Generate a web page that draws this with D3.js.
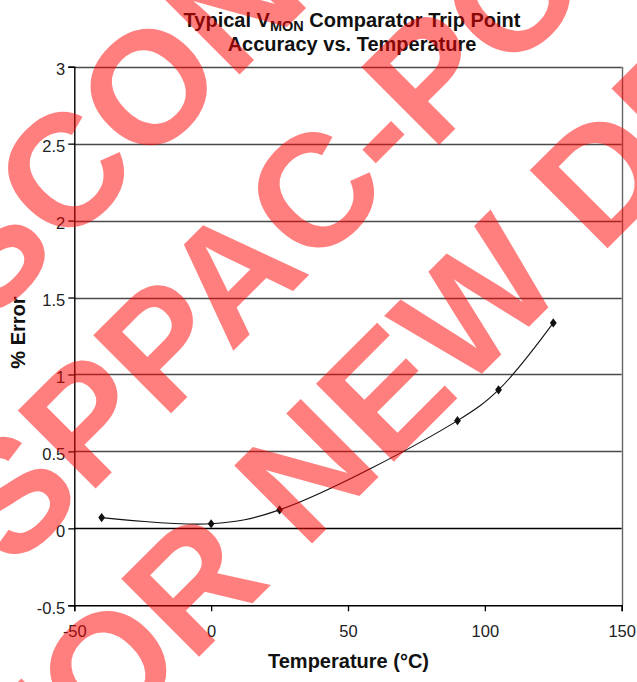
<!DOCTYPE html>
<html><head><meta charset="utf-8">
<script src="https://cdn.jsdelivr.net/npm/d3@7"></script>
<style>
html,body{margin:0;padding:0;background:#fff;}
svg{display:block;font-family:"Liberation Sans",Arial,sans-serif;}
</style>
</head><body>
<svg id="chart" width="637" height="682"></svg>
<script>
// ---- data ----
const temperatures = [-40, 0, 25, 90, 105, 125];
const percentError = [0.07, 0.03, 0.12, 0.70, 0.90, 1.335];
const xTickValues = [-50, 0, 50, 100, 150];
const yTickValues = [-0.5, 0, 0.5, 1, 1.5, 2, 2.5, 3];
const titleMain = "Typical V";
const titleSub = "MON";
const titleRest = " Comparator Trip Point";
const titleLine2 = "Accuracy vs. Temperature";
const xTitle = "Temperature (\u00B0C)";
const yTitle = "% Error";
const watermarkLines = ["DISCONTINUED", "SPPAC-PO", "FOR NEW DESIGNS"];
const watermarkAnchorChar = [3, 4, 4];

// ---- layout ----
const W = 637, H = 682;
const plot = {left: 74.3, right: 621.7, top: 66.7, bottom: 605.3};
const svg = d3.select("#chart");

const x = d3.scaleLinear().domain([-50, 150]).range([plot.left, plot.right]);
const y = d3.scaleLinear().domain([-0.5, 3]).range([plot.bottom, plot.top]);

// gridlines
svg.append("g").selectAll("line")
  .data(yTickValues.filter(v => v !== -0.5))
  .join("line")
  .attr("x1", plot.left).attr("x2", plot.right)
  .attr("y1", d => Math.round(y(d)) + 0.5).attr("y2", d => Math.round(y(d)) + 0.5)
  .attr("stroke", d => d === 0 ? "#000" : "#4a4a4a")
  .attr("stroke-width", d => d === 0 ? 1.4 : 1.3);

// right border
svg.append("line")
  .attr("x1", Math.round(plot.right) + 0.5).attr("x2", Math.round(plot.right) + 0.5)
  .attr("y1", plot.top).attr("y2", plot.bottom)
  .attr("stroke", "#666").attr("stroke-width", 1.4);

// axes
const tickFont = 16.5;
const yAxis = svg.append("g")
  .attr("transform", `translate(${plot.left},0)`)
  .call(d3.axisLeft(y).tickValues(yTickValues).tickSize(6).tickPadding(3)
        .tickFormat(d => String(d)));
const xAxis = svg.append("g")
  .attr("transform", `translate(0,${plot.bottom})`)
  .call(d3.axisBottom(x).tickValues(xTickValues).tickSize(6).tickPadding(3)
        .tickFormat(d => String(d)));
[yAxis, xAxis].forEach(g => {
  g.select(".domain").attr("stroke", "#000").attr("stroke-width", 1.4);
  g.selectAll(".tick line").attr("stroke", "#000").attr("stroke-width", 1.3);
  g.selectAll(".tick text").attr("fill", "#222")
    .style("font-size", tickFont + "px")
    .style("font-family", '"Liberation Sans", Arial, sans-serif');
});
yAxis.selectAll(".tick text").attr("dy", "0.5em");
xAxis.selectAll(".tick text").attr("y", 19.5).attr("dy", "0.71em");

// series line (smoothed)
const pts = temperatures.map((t, i) => [t, percentError[i]]);
const line = d3.line().x(d => x(d[0])).y(d => y(d[1])).curve(d3.curveCatmullRom.alpha(0.5));
svg.append("path").datum(pts).attr("d", line)
  .attr("fill", "none").attr("stroke", "#111").attr("stroke-width", 1.1);

// diamond markers
const mw = 3.4, mh = 4.6;
svg.append("g").selectAll("path").data(pts).join("path")
  .attr("transform", d => `translate(${x(d[0])},${y(d[1])})`)
  .attr("d", `M0,${-mh}L${mw},0L0,${mh}L${-mw},0Z`)
  .attr("fill", "#111");

// titles
const title = svg.append("text").attr("x", 352).attr("y", 26.5)
  .attr("text-anchor", "middle").attr("font-weight", "bold")
  .style("font-size", "20px").attr("fill", "#111");
title.append("tspan").text(titleMain);
title.append("tspan").text(titleSub).attr("dy", 4).style("font-size", "14.5px");
title.append("tspan").text(titleRest).attr("dy", -4);
svg.append("text").attr("x", 352).attr("y", 50.5)
  .attr("text-anchor", "middle").attr("font-weight", "bold")
  .style("font-size", "20px").attr("fill", "#111").text(titleLine2);

svg.append("text").attr("x", 348.5).attr("y", 668.3)
  .attr("text-anchor", "middle").attr("font-weight", "bold")
  .style("font-size", "20px").attr("fill", "#111").text(xTitle);
svg.append("text").attr("transform", "translate(25,332.5) rotate(-90)")
  .attr("text-anchor", "middle").attr("font-weight", "bold")
  .style("font-size", "20px").attr("fill", "#111").text(yTitle);

// watermark
const wmFont = 160;
const wmBaselines = [222, 413, 605];
const wmAnchorT = [-134, 28.5, -174.3];
const wm = svg.append("g").attr("transform", "rotate(-45)");
watermarkLines.forEach((s, i) => {
  const t = wm.append("text").attr("x", 0).attr("y", wmBaselines[i])
    .attr("font-weight", "bold").style("font-size", wmFont + "px")
    .attr("fill", "#ff0000").attr("fill-opacity", 0.5).text(s);
  const k = watermarkAnchorChar[i];
  const pre = k > 0 ? t.node().getSubStringLength(0, k) : 0;
  t.attr("x", wmAnchorT[i] - pre);
});
</script>
</body></html>
